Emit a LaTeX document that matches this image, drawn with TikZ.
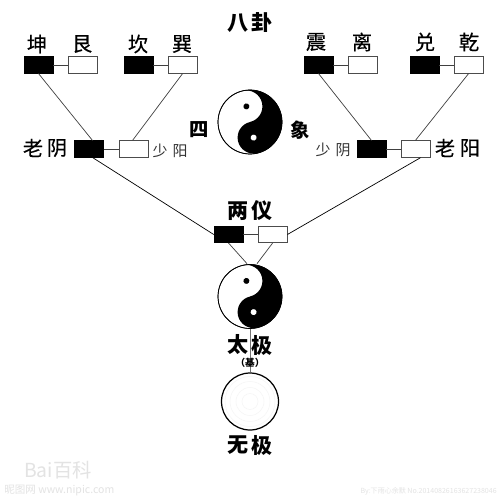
\documentclass[tikz,border=0pt]{standalone}
\usepackage{fontspec}
\setmainfont{Noto Sans CJK SC}
\newfontfamily\cjkm[FakeBold=0.35]{Noto Sans CJK SC}
\newcommand{\yydiagram}[3]{%
  \node[yycircle] (#1) at (#2,-#3) {};
  \begin{scope}[shift={(#2,-#3)},rotate=13]
    \fill[black] (0,32) arc[start angle=90,end angle=-90,radius=32]
      arc[start angle=-90,end angle=-270,radius=16]
      arc[start angle=-90,end angle=90,radius=16] -- cycle;
    \fill[black] (0,16) circle[radius=3];
    \fill[white] (0,-16) circle[radius=3];
  \end{scope}
  \draw[line width=0.4pt] (#2,-#3) circle[radius=32];
}
\tikzset{
  x=0.02cm,y=0.02cm,
  yinbox/.style={draw=black,fill=black,minimum width=0.58cm,minimum height=0.33cm,inner sep=0pt,line width=0.3pt},
  yangbox/.style={draw=black!70,fill=white,minimum width=0.58cm,minimum height=0.33cm,inner sep=0pt,line width=0.5pt},
  yycircle/.style={circle,draw=black,fill=white,minimum size=1.28cm,inner sep=0pt},
  wuji/.style={circle,draw=black,fill=white,minimum size=1.14cm,inner sep=0pt,line width=0.7pt},
  link/.style={draw=black!75,line width=0.4pt},
  gua/.style={font=\cjkm\fontsize{11.5}{12}\selectfont,inner sep=0pt},
  lao/.style={font=\cjkm\fontsize{11.5}{13}\selectfont,inner sep=0pt},
  shao/.style={font=\fontsize{8.5}{9}\selectfont,text=black!80,inner sep=0pt},
  heavy/.style={font=\fontsize{12}{13}\selectfont\bfseries,inner sep=0pt},
  wm/.style={text=black!11,inner sep=0pt},
}
\begin{document}
\begin{tikzpicture}
\useasboundingbox[fill=white] (0,0) rectangle (500,-500);

% yin-yang and wuji circles
\yydiagram{sixiang}{250}{122}
\yydiagram{taiji}{250}{296.5}
\node[wuji] (wj) at (250,-401.5) {};
\foreach \r in {8,14,20,25} \draw[black!4,line width=0.3pt] (wj.center) circle[radius=\r];

% boxes
\node[yinbox]  (kun)  at (38.5,-65) {};
\node[yangbox] (gen)  at (82.5,-65) {};
\node[yinbox]  (kan)  at (138.5,-65) {};
\node[yangbox] (xun)  at (182.5,-65) {};
\node[yinbox]  (zhen) at (318.5,-65) {};
\node[yangbox] (li)   at (362.5,-65) {};
\node[yinbox]  (dui)  at (424.5,-65) {};
\node[yangbox] (qian) at (468.5,-65) {};
\node[yinbox]  (ly)   at (89,-149) {};
\node[yangbox] (sy)   at (133.5,-149) {};
\node[yinbox]  (sn)   at (371.5,-149) {};
\node[yangbox] (ry)   at (415.5,-149) {};
\node[yinbox]  (yi)   at (228.5,-234.5) {};
\node[yangbox] (ya)   at (272.5,-234.5) {};

% connectors
\foreach \a/\b in {kun/gen,kan/xun,zhen/li,dui/qian,ly/sy,sn/ry,yi/ya}
  \draw[link] (\a) -- (\b);
\draw[link] (kun.south) -- ([xshift=2pt]ly.north);
\draw[link] (xun.south) -- ([xshift=-0.5pt]sy.north);
\draw[link] (zhen.south) -- (sn.north);
\draw[link] (qian.south) -- (ry.north);
\draw[link,black] ([xshift=2pt]ly.south) -- (yi.west);
\draw[link,black] ([xshift=0.1cm]ry.south) -- (ya.east);
\draw[link] (yi.south) -- ([xshift=-0.06cm,yshift=0.01cm]taiji.north);
\draw[link] (ya.south) -- ([xshift=0.14cm,yshift=0.01cm]taiji.north);
\draw[draw=black!55,line width=0.5pt] (taiji.south) -- (wj.north);

% labels
\node[heavy] (t1) at (238,-23) {八};
\node[heavy] (t2) at (262,-23) {卦};
\node[gua] at (37,-44) {坤};
\node[gua] at (82,-44) {艮};
\node[gua] at (138,-44) {坎};
\node[gua] at (182,-44) {巽};
\node[gua] at (316,-42) {震};
\node[gua] at (362,-42) {离};
\node[gua] at (425,-42) {兑};
\node[gua] at (469,-42) {乾};
\node[lao] at (33,-148) {老};
\node[lao] at (57,-148) {阴};
\node[shao] at (160,-151) {少};
\node[shao] at (180,-151) {阳};
\node[shao] at (323,-150) {少};
\node[shao] at (343,-150) {阴};
\node[lao] at (445,-148) {老};
\node[lao] at (470,-148) {阳};
\node[heavy,font=\fontsize{11}{12}\selectfont\bfseries] at (199,-130) {四};
\node[heavy,font=\fontsize{11}{12}\selectfont\bfseries] at (300,-130) {象};
\node[heavy] at (238,-211) {两};
\node[heavy] at (262,-211) {仪};
\node[heavy] at (238,-345) {太};
\node[heavy] at (262,-345) {极};
\node[font=\fontsize{5.5}{6}\selectfont\bfseries,inner sep=0pt] at (250,-363) {（基）};
\node[heavy] at (238,-445) {无};
\node[heavy] at (262,-445) {极};

% watermarks
\node[wm,font=\fontsize{11}{12}\selectfont] at (58,-470) {Bai百科};
\node[wm,anchor=west,font=\fontsize{6}{7}\selectfont] at (4,-491) {昵图网 www.nipic.com};
\node[wm,anchor=east,font=\fontsize{4}{5}\selectfont] at (497,-491) {By:下雨心余默 No.20140826163627238046};
\end{tikzpicture}
\end{document}
